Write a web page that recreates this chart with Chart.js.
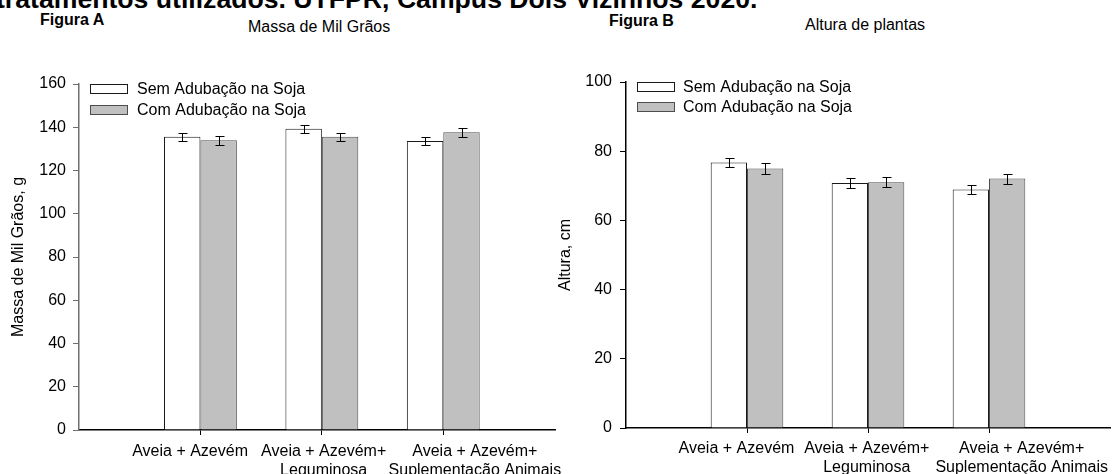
<!DOCTYPE html>
<html>
<head>
<meta charset="utf-8">
<script src="https://cdn.jsdelivr.net/npm/chart.js@4.4.1/dist/chart.umd.min.js"></script>
<style>
  html, body { margin: 0; padding: 0; background: #fff; }
  #page { position: relative; width: 1114px; height: 474px; overflow: hidden;
          font-family: "Liberation Sans", Arial, sans-serif; color: #000; background: #fff; }
  .txt { position: absolute; white-space: nowrap; line-height: 1; }
  #heading { font-weight: bold; left: -4px; top: -14px; font-size: 26px; }
  .fig { font-weight: bold; font-size: 16px; }
  .sub { font-size: 16px; }
  canvas { position: absolute; top: 0; }
</style>
</head>
<body>
<div id="page">
  <div id="heading" class="txt">tratamentos utilizados. UTFPR, Campus Dois Vizinhos 2020.</div>
  <div class="txt fig" style="left:40px; top:12px;">Figura A</div>
  <div class="txt sub" style="left:248px; top:19px;">Massa de Mil Grãos</div>
  <div class="txt fig" style="left:609px; top:13px;">Figura B</div>
  <div class="txt sub" style="left:805px; top:17px;">Altura de plantas</div>
  <canvas id="chartA" width="580" height="474" style="left:0px;"></canvas>
  <canvas id="chartB" width="574" height="474" style="left:540px;"></canvas>
</div>
<script>
// Treatments (x categories) and the two fertilisation series
const categories = [
  'Aveia + Azevém',
  ['Aveia + Azevém+', 'Leguminosa'],
  ['Aveia + Azevém+', 'Suplementação Animais']
];
const seriesNames = ['Sem Adubação na Soja', 'Com Adubação na Soja'];

// Figura A – Massa de Mil Grãos (g)
const massaSem    = [135.6, 139.3, 133.6];
const massaCom    = [134.0, 135.6, 137.7];
const massaSemErr = [1.9, 1.9, 1.9];
const massaComErr = [2.0, 1.9, 2.0];

// Figura B – Altura de plantas (cm)
const alturaSem    = [76.7, 70.8, 68.9];
const alturaCom    = [75.0, 71.0, 72.1];
const alturaSemErr = [1.4, 1.4, 1.4];
const alturaComErr = [1.45, 1.45, 1.45];

// Stretch the heading so it spans its full line
(function fitHeading() {
  const h = document.getElementById('heading');
  h.style.fontSize = '100px';
  const w = h.getBoundingClientRect().width;
  const size = 100 * 762 / w;
  h.style.fontSize = size + 'px';
  h.style.top = (9 - 0.847 * size) + 'px';
})();

Chart.defaults.font.family = '"Liberation Sans", Arial, sans-serif';
Chart.defaults.color = '#000';

// Vertical error bars with caps, drawn over each bar
const errorBars = {
  id: 'errorBars',
  afterDatasetsDraw(chart) {
    const { ctx } = chart;
    const y = chart.scales.y;
    const cap = 4;
    chart.data.datasets.forEach((ds, di) => {
      const meta = chart.getDatasetMeta(di);
      meta.data.forEach((bar, i) => {
        const v = ds.data[i].y, e = ds.errors[i];
        const top = Math.round(y.getPixelForValue(v + e)) + 0.5;
        const bot = Math.round(y.getPixelForValue(v - e)) + 0.5;
        const x = Math.round(bar.x) + 0.5;
        ctx.save();
        ctx.strokeStyle = '#000';
        ctx.lineWidth = 1;
        ctx.beginPath();
        ctx.moveTo(x, top); ctx.lineTo(x, bot);
        ctx.moveTo(x - cap, top); ctx.lineTo(x + cap + 1, top);
        ctx.moveTo(x - cap, bot); ctx.lineTo(x + cap + 1, bot);
        ctx.stroke();
        ctx.restore();
      });
    });
  }
};

// Legend boxes placed inside the plot, top-left
const boxLegend = {
  id: 'boxLegend',
  afterDraw(chart, args, o) {
    const { ctx, chartArea } = chart;
    chart.data.datasets.forEach((ds, i) => {
      const bx = Math.round(chartArea.left + o.dx);
      const by = Math.round(chartArea.top + o.dy + i * o.gap);
      ctx.save();
      ctx.fillStyle = ds.backgroundColor;
      ctx.fillRect(bx, by, o.w, o.h);
      ctx.strokeStyle = ds.borderColor;
      ctx.lineWidth = 1;
      ctx.strokeRect(bx + 0.5, by + 0.5, o.w - 1, o.h - 1);
      ctx.fillStyle = '#000';
      ctx.font = '16px "Liberation Sans", Arial, sans-serif';
      ctx.textBaseline = 'middle';
      ctx.textAlign = 'left';
      ctx.fillText(ds.label, bx + o.w + o.textGap, by + o.h / 2 + 1);
      ctx.restore();
    });
  }
};

// Scales keep their boxes exactly as sized here
const noPad = s => { s.paddingLeft = 0; s.paddingRight = 0; s.paddingTop = 0; s.paddingBottom = 0; };

function buildChart(id, g) {
  const toPoints = arr => arr.map((v, i) => ({ x: i + 1, y: v }));
  return new Chart(document.getElementById(id), {
    type: 'bar',
    data: {
      datasets: [
        { label: seriesNames[0], data: toPoints(g.sem), errors: g.semErr,
          backgroundColor: '#ffffff', borderColor: '#1a1a1a', borderWidth: 1,
          borderSkipped: 'start', categoryPercentage: 0.6, barPercentage: 1 },
        { label: seriesNames[1], data: toPoints(g.com), errors: g.comErr,
          backgroundColor: '#c0c0c0', borderColor: '#4d4d4d', borderWidth: 1,
          borderSkipped: 'start', categoryPercentage: 0.6, barPercentage: 1 }
      ]
    },
    options: {
      responsive: false,
      animation: false,
      devicePixelRatio: 1,
      layout: { padding: { top: g.top, left: 0, right: g.right, bottom: 0 } },
      plugins: {
        legend: { display: false },
        tooltip: { enabled: false },
        boxLegend: g.legend
      },
      scales: {
        // axis line and tick marks at each treatment
        x: {
          type: 'linear', position: 'bottom', weight: 0, min: 0, max: g.xMax, offset: false,
          afterBuildTicks: s => { s.ticks = categories.map((c, i) => ({ value: i + 1 })); },
          afterFit: s => { s.height = 5; noPad(s); },
          ticks: { display: false },
          grid: { display: true, offset: false, drawOnChartArea: false, drawTicks: true,
                  tickLength: 5, color: '#000', lineWidth: 1 },
          border: { display: true, color: '#000', width: 1.5 }
        },
        // treatment names, spread out under the groups
        xNames: {
          type: 'linear', position: 'bottom', weight: 1, min: 0, max: g.xMax, offset: false,
          afterBuildTicks: s => { s.ticks = categories.map((c, i) => ({ value: i + 1 + g.nameShift[i] })); },
          afterFit: s => { s.height = g.xHeight - 5; noPad(s); },
          ticks: { autoSkip: false, maxRotation: 0, minRotation: 0, padding: g.namePad,
                   font: { size: 16, lineHeight: 1.2 }, color: '#000',
                   callback: (v, i) => categories[i] },
          grid: { display: false, drawTicks: false },
          border: { display: false }
        },
        y: {
          min: 0, max: g.yMax,
          afterFit: s => { s.width = g.yWidth; noPad(s); },
          ticks: { stepSize: 20, padding: g.yPad, font: { size: 16 }, color: '#000' },
          grid: { drawOnChartArea: false, tickLength: 6, color: g.yColor, lineWidth: 1 },
          border: { display: true, color: g.yColor, width: 1.5 },
          title: { display: true, text: g.yTitle, font: { size: 16 }, color: '#000',
                   padding: { top: g.titlePad, bottom: 0 } }
        }
      }
    },
    plugins: [errorBars, boxLegend]
  });
}

buildChart('chartA', {
  sem: massaSem, com: massaCom, semErr: massaSemErr, comErr: massaComErr,
  yMax: 160, yTitle: 'Massa de Mil Grãos, g', yColor: '#6e6e6e',
  top: 84, right: 25, xMax: 3.92, xHeight: 44, yWidth: 79, yPad: 7, titlePad: 9,
  nameShift: [-0.085, 0.015, 0.26], namePad: 7,
  legend: { dx: 11, dy: 0, gap: 21, w: 38, h: 10, textGap: 9 }
});

buildChart('chartB', {
  sem: alturaSem, com: alturaCom, semErr: alturaSemErr, comErr: alturaComErr,
  yMax: 100, yTitle: 'Altura, cm', yColor: '#000',
  top: 82, right: 4, xMax: 4, xHeight: 46, yWidth: 86, yPad: 8, titlePad: 16,
  nameShift: [-0.087, -0.01, 0.27], namePad: 6,
  legend: { dx: 11, dy: 0, gap: 20, w: 38, h: 10, textGap: 8 }
});
</script>
</body>
</html>
